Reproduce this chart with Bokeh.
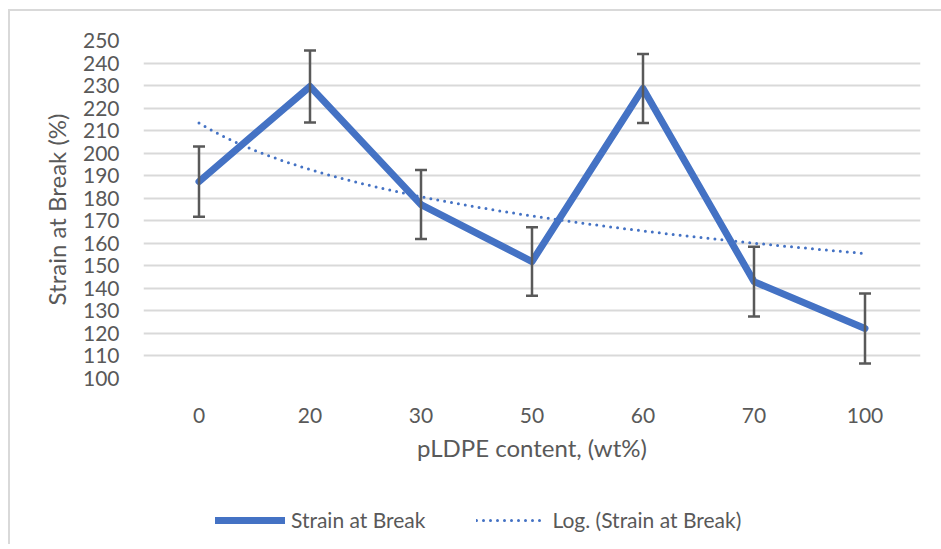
import numpy as np
from bokeh.plotting import figure
from bokeh.layouts import column
from bokeh.models import (ColumnDataSource, Whisker, TeeHead, Legend, LegendItem,
                          FixedTicker, Range1d)
from bokeh.embed import file_html
from bokeh.resources import INLINE

# ---- data ----
categories = ["0", "20", "30", "50", "60", "70", "100"]
strain = [187.4, 229.6, 177.2, 151.9, 228.7, 143.0, 122.2]
strain_err = [15.6, 16.0, 15.3, 15.2, 15.3, 15.5, 15.5]
y_ticks = [100, 110, 120, 130, 140, 150, 160, 170, 180, 190, 200, 210, 220, 230, 240, 250]
series_names = ["Strain at Break", "Log. (Strain at Break)"]

FONT = "Lato"
TXT = "#595959"
BLUE = "#4472C4"
LINE_STYLE = dict(line_color=BLUE, line_width=7, line_join="round", line_cap="round")
TREND_STYLE = dict(line_color=BLUE, line_width=3, line_dash="0 7", line_cap="round")

pos = np.arange(len(categories))
src = ColumnDataSource(dict(
    x=pos, y=strain,
    upper=[v + e for v, e in zip(strain, strain_err)],
    lower=[v - e for v, e in zip(strain, strain_err)],
))

# logarithmic trendline fitted to the data (as Excel does, x = 1..n)
a, b = np.polyfit(np.log(pos + 1), strain, 1)
xs = np.linspace(0, len(categories) - 1, 200)
trend = ColumnDataSource(dict(x=xs, y=a * np.log(xs + 1) + b))

p = figure(frame_width=777, frame_height=338,
           min_border_left=133, min_border_right=19,
           min_border_top=29, min_border_bottom=90,
           x_range=Range1d(-0.5, len(categories) - 0.5),
           y_range=Range1d(100, 250),
           output_backend="svg", toolbar_location=None)
p.outline_line_color = None
p.background_fill_color = "white"
p.border_fill_color = "white"

p.xgrid.grid_line_color = None
p.ygrid.grid_line_color = "#d9d9d9"
p.ygrid.grid_line_width = 2

p.xaxis.ticker = FixedTicker(ticks=[int(i) for i in pos])
p.xaxis.major_label_overrides = {int(i): c for i, c in zip(pos, categories)}
p.yaxis.ticker = FixedTicker(ticks=y_ticks)

for ax in (p.xaxis[0], p.yaxis[0]):
    ax.axis_line_color = None
    ax.major_tick_line_color = None
    ax.minor_tick_line_color = None
    ax.major_label_text_font = FONT
    ax.major_label_text_font_size = "21px"
    ax.major_label_text_color = TXT
    ax.axis_label_text_font = FONT
    ax.axis_label_text_font_size = "24px"
    ax.axis_label_text_font_style = "normal"
    ax.axis_label_text_color = TXT

p.xaxis.axis_label = "pLDPE content, (wt%)"
p.yaxis.axis_label = "Strain at Break (%)"
p.xaxis.major_label_standoff = 23
p.xaxis.axis_label_standoff = 7
p.yaxis.major_label_standoff = 18
p.yaxis.axis_label_standoff = 9

p.line("x", "y", source=src, **LINE_STYLE)
p.line("x", "y", source=trend, **TREND_STYLE)

whisk = Whisker(base="x", upper="upper", lower="lower", source=src,
                line_color="#595959", line_width=2.5, level="overlay",
                upper_head=TeeHead(size=12, line_color="#595959", line_width=2.5),
                lower_head=TeeHead(size=12, line_color="#595959", line_width=2.5))
p.add_layout(whisk)

# legend strip below the chart (its ranges keep the series themselves out of view)
pl = figure(width=931, height=76, min_border=0,
            x_range=Range1d(-0.5, len(categories) - 0.5), y_range=Range1d(0, 1),
            x_axis_location=None, y_axis_location=None,
            output_backend="svg", toolbar_location=None)
pl.grid.grid_line_color = None
pl.outline_line_color = None
pl.background_fill_color = "white"
pl.border_fill_color = "white"
lr1 = pl.line("x", "y", source=src, **LINE_STYLE)
lr2 = pl.line("x", "y", source=trend, **TREND_STYLE)

legend = Legend(items=[LegendItem(label=series_names[0], renderers=[lr1]),
                       LegendItem(label=series_names[1], renderers=[lr2])],
                orientation="horizontal", location=(72, 12),
                background_fill_alpha=0, border_line_color=None,
                padding=0, margin=0, spacing=51,
                glyph_width=70, glyph_height=24, label_height=24,
                label_standoff=6,
                label_text_font=FONT, label_text_font_size="21px",
                label_text_color=TXT)
pl.add_layout(legend)

layout = column(p, pl, spacing=0)
layout.styles = {"margin-left": "8px", "margin-top": "9px",
                 "border-left": "2px solid #d9d9d9", "border-top": "2px solid #d9d9d9"}

open("out.html", "w").write(file_html(layout, INLINE))
